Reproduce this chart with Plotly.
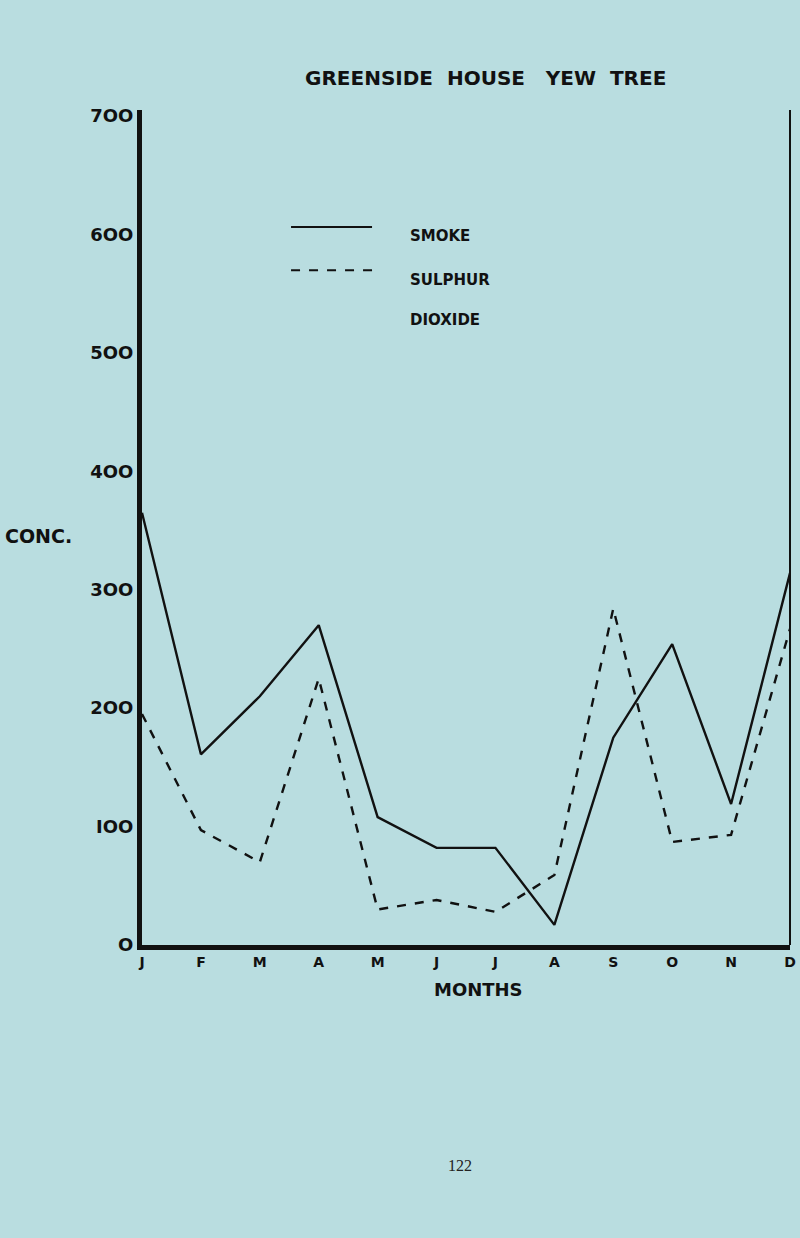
import plotly.graph_objects as go

months = ["J","F","M","A","M","J","J","A","S","O","N","D"]
smoke = [365, 161, 210, 270, 108, 82, 82, 17, 175, 254, 119, 314]
so2 = [195, 97, 70, 225, 30, 38, 28, 59, 284, 87, 93, 267]
yticks = [0, 100, 200, 300, 400, 500, 600, 700]
ytext = ["O", "IOO", "2OO", "3OO", "4OO", "5OO", "6OO", "7OO"]

x = list(range(len(months)))
fig = go.Figure()
fig.add_trace(go.Scatter(x=x, y=smoke, mode="lines", line=dict(color="#111", width=2.4), showlegend=False, cliponaxis=False))
fig.add_trace(go.Scatter(x=x, y=so2, mode="lines", line=dict(color="#111", width=2.4, dash="dash"), showlegend=False, cliponaxis=False))

bg = "#b9dde0"
tf = dict(family="DejaVu Sans", color="#111")
fig.update_layout(
    width=800, height=1238, paper_bgcolor=bg, plot_bgcolor=bg,
    margin=dict(l=142, r=4, t=110, b=293),
    xaxis=dict(range=[0, 11], tickvals=x, ticktext=["<b>%s</b>" % m for m in months], showgrid=False, zeroline=False,
               showline=True, linecolor="#111", linewidth=5, ticks="", ticklabeloverflow="allow",
               tickfont=dict(size=14, **tf)),
    yaxis=dict(range=[0, 705], tickvals=yticks, ticktext=["<b>%s</b>" % t for t in ytext], showgrid=False, zeroline=False,
               showline=True, linecolor="#111", linewidth=5, ticks="", tickfont=dict(size=18, **tf)),
    shapes=[
        dict(type="line", xref="paper", yref="paper", x0=1, x1=1, y0=0, y1=1, line=dict(color="#111", width=2)),
        dict(type="line", xref="paper", yref="paper", x0=0.23, x1=0.355, y0=0.86, y1=0.86, line=dict(color="#111", width=2)),
        dict(type="line", xref="paper", yref="paper", x0=0.23, x1=0.355, y0=0.808, y1=0.808, line=dict(color="#111", width=2, dash="dash")),
    ],
    annotations=[
        dict(text="<b>GREENSIDE  HOUSE   YEW  TREE</b>", xref="paper", yref="paper", x=0.53, y=1.055, showarrow=False, font=dict(size=20, **tf)),
        dict(text="<b>SMOKE</b>", xref="paper", yref="paper", x=0.41, y=0.862, xanchor="left", showarrow=False, font=dict(size=15, **tf)),
        dict(text="<b>SULPHUR</b>", xref="paper", yref="paper", x=0.41, y=0.81, xanchor="left", showarrow=False, font=dict(size=15, **tf)),
        dict(text="<b>DIOXIDE</b>", xref="paper", yref="paper", x=0.41, y=0.762, xanchor="left", showarrow=False, font=dict(size=15, **tf)),
        dict(text="<b>CONC.</b>", xref="paper", yref="paper", x=-0.215, y=0.49, xanchor="left", showarrow=False, font=dict(size=19, **tf)),
        dict(text="<b>MONTHS</b>", xref="paper", yref="paper", x=0.52, y=-0.068, showarrow=False, font=dict(size=18, **tf)),
        dict(text="122", xref="paper", yref="paper", x=0.49, y=-0.277, showarrow=False, font=dict(size=16, family="Liberation Serif", color="#222")),
    ],
)
fig.write_html("out.html", config={"displayModeBar": False},
               post_script="document.body.style.margin='0';document.body.style.overflow='hidden';")
